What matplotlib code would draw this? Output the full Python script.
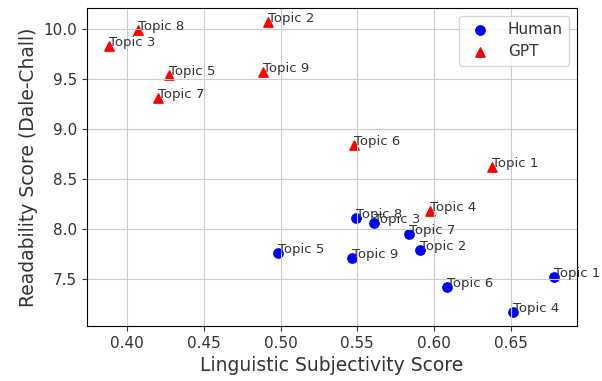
import matplotlib
matplotlib.use("Agg")
import matplotlib.pyplot as plt

topics = ["Topic 1", "Topic 2", "Topic 3", "Topic 4", "Topic 5",
          "Topic 6", "Topic 7", "Topic 8", "Topic 9"]

human_subj = [0.6786, 0.5908, 0.5612, 0.6514, 0.4982, 0.6083, 0.5834, 0.5494, 0.5464]
human_read = [7.52, 7.79, 8.06, 7.17, 7.76, 7.42, 7.95, 8.11, 7.71]

gpt_subj = [0.6377, 0.4917, 0.3882, 0.5974, 0.4275, 0.5477, 0.4198, 0.4067, 0.4884]
gpt_read = [8.62, 10.07, 9.83, 8.18, 9.54, 8.84, 9.31, 9.99, 9.57]

TXT = "#333333"
plt.rcParams["text.color"] = TXT
plt.rcParams["xtick.color"] = TXT
plt.rcParams["ytick.color"] = TXT
plt.rcParams["axes.labelcolor"] = TXT

fig = plt.figure(figsize=(6.02, 3.81), dpi=100)
ax = fig.add_axes([0.1445, 0.1444, 0.8135, 0.8346])

ax.scatter(human_subj, human_read, color="blue", marker="o", s=45, label="Human")
ax.scatter(gpt_subj, gpt_read, color="red", marker="^", s=45, label="GPT")

# topic labels next to each point
for t, x, y in zip(topics, human_subj, human_read):
    ax.annotate(t, (x, y), fontsize=9.5)
for t, x, y in zip(topics, gpt_subj, gpt_read):
    ax.annotate(t, (x, y), fontsize=9.5)

ax.set_xlabel("Linguistic Subjectivity Score", fontsize=13.5)
ax.set_ylabel("Readability Score (Dale-Chall)", fontsize=13.5)
ax.tick_params(labelsize=11)
ax.legend(loc="upper right", fontsize=11)
ax.grid(True, color="#cccccc")

fig.savefig("out.png", dpi=100)
